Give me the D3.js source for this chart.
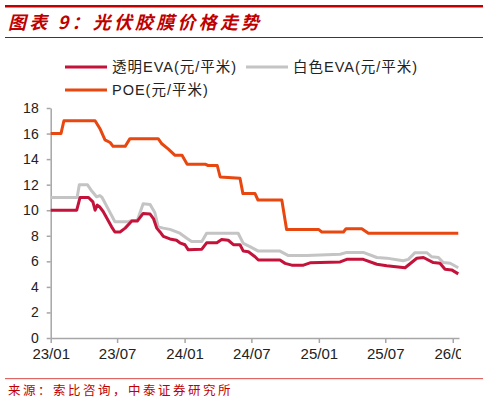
<!DOCTYPE html>
<html>
<head>
<meta charset="utf-8">
<script src="https://cdn.jsdelivr.net/npm/d3@7"></script>
<style>
  body { margin: 0; background: #fff; }
  svg { display: block; }
  .axis text { font-family: "Liberation Sans", Arial, sans-serif; font-size: 14px; fill: #222; }
  .axis.x text { font-size: 15px; }
  .axis path, .axis line { stroke: #a6a6a6; stroke-width: 1.5; }
</style>
</head>
<body>
<div id="chart"></div>
<script>
// values (元/平米)
const transparentEva = [
  ['2023-01-01', 10.0], ['2023-03-13', 10.0], ['2023-03-22', 11.0], ['2023-04-14', 11.0],
  ['2023-04-26', 10.65], ['2023-05-02', 10.0], ['2023-05-08', 10.4], ['2023-05-15', 10.25],
  ['2023-05-24', 9.9], ['2023-06-16', 8.7], ['2023-06-25', 8.3], ['2023-07-09', 8.3],
  ['2023-07-23', 8.6], ['2023-08-10', 9.15], ['2023-08-25', 9.15], ['2023-09-10', 9.75],
  ['2023-09-29', 9.7], ['2023-10-08', 9.35], ['2023-10-17', 8.6], ['2023-10-26', 8.3],
  ['2023-11-04', 7.95], ['2023-11-22', 7.75], ['2023-12-10', 7.65], ['2023-12-19', 7.45],
  ['2024-01-02', 7.3], ['2024-01-11', 6.9], ['2024-02-17', 6.95], ['2024-03-01', 7.45],
  ['2024-03-29', 7.45], ['2024-04-11', 7.7], ['2024-04-29', 7.65], ['2024-05-13', 7.3],
  ['2024-05-31', 7.3], ['2024-06-09', 6.8], ['2024-06-23', 6.75], ['2024-07-11', 6.36],
  ['2024-07-20', 6.1], ['2024-09-17', 6.1], ['2024-10-01', 5.84], ['2024-10-19', 5.7],
  ['2024-11-20', 5.7], ['2024-12-08', 5.88], ['2025-02-28', 5.95], ['2025-03-18', 6.16],
  ['2025-05-02', 6.16], ['2025-06-08', 5.77], ['2025-07-05', 5.66], ['2025-08-24', 5.5],
  ['2025-09-25', 6.24], ['2025-10-13', 6.3], ['2025-11-09', 5.9], ['2025-11-27', 5.85],
  ['2025-12-11', 5.38], ['2025-12-29', 5.33], ['2026-01-16', 5.02]
];

const whiteEva = [
  ['2023-01-01', 11.0], ['2023-03-14', 11.0], ['2023-03-20', 12.0], ['2023-04-11', 12.0],
  ['2023-04-23', 11.5], ['2023-05-06', 11.05], ['2023-05-15', 11.15], ['2023-05-21', 11.0],
  ['2023-06-03', 10.3], ['2023-06-25', 9.1], ['2023-08-01', 9.1], ['2023-08-10', 9.2],
  ['2023-08-25', 9.2], ['2023-09-10', 10.5], ['2023-09-29', 10.45], ['2023-10-12', 9.8],
  ['2023-10-21', 8.7], ['2023-11-04', 8.6], ['2023-11-22', 8.5], ['2023-12-19', 8.2],
  ['2024-01-07', 7.8], ['2024-01-20', 7.55], ['2024-02-17', 7.55], ['2024-03-01', 8.2],
  ['2024-05-26', 8.2], ['2024-06-09', 7.4], ['2024-06-27', 7.15], ['2024-07-20', 6.8],
  ['2024-09-17', 6.8], ['2024-10-10', 6.45], ['2024-11-29', 6.45], ['2025-02-28', 6.55],
  ['2025-03-18', 6.7], ['2025-05-02', 6.7], ['2025-06-08', 6.3], ['2025-07-05', 6.25],
  ['2025-08-19', 6.05], ['2025-09-02', 6.15], ['2025-09-20', 6.68], ['2025-10-22', 6.68],
  ['2025-11-05', 6.35], ['2025-11-23', 6.3], ['2025-12-06', 5.9], ['2025-12-25', 5.85],
  ['2026-01-16', 5.5]
];

const poe = [
  ['2023-01-01', 16.0], ['2023-01-29', 16.0], ['2023-02-06', 17.0], ['2023-05-02', 17.0],
  ['2023-05-15', 16.4], ['2023-05-29', 15.5], ['2023-06-12', 15.3], ['2023-06-20', 15.0],
  ['2023-07-23', 15.0], ['2023-08-05', 15.6], ['2023-10-21', 15.6], ['2023-10-31', 15.2],
  ['2023-11-17', 14.8], ['2023-12-06', 14.3], ['2023-12-25', 14.3], ['2024-01-08', 13.6],
  ['2024-02-26', 13.6], ['2024-03-05', 13.5], ['2024-03-30', 13.5], ['2024-04-07', 12.6],
  ['2024-05-31', 12.5], ['2024-06-08', 11.3], ['2024-07-11', 11.3], ['2024-07-19', 10.8],
  ['2024-09-22', 10.8], ['2024-10-05', 8.5], ['2024-12-31', 8.5], ['2025-01-09', 8.3],
  ['2025-03-09', 8.3], ['2025-03-16', 8.55], ['2025-04-28', 8.55], ['2025-05-16', 8.2],
  ['2026-01-16', 8.2]
];

const seriesNames = ['透明EVA(元/平米)', '白色EVA(元/平米)', 'POE(元/平米)'];
const seriesColors = ['#c4133b', '#c4c4c4', '#e8470f'];
const yTicks = [0, 2, 4, 6, 8, 10, 12, 14, 16, 18];

const width = 488;
const height = 402;
const parse = d3.timeParse('%Y-%m-%d');

const svg = d3.select('#chart').append('svg')
  .attr('width', width)
  .attr('height', height);

// header rules and title
svg.append('rect').attr('x', 5).attr('y', 5).attr('width', 478).attr('height', 2.5).attr('fill', '#c00000');
svg.append('rect').attr('x', 5).attr('y', 37).attr('width', 478).attr('height', 1).attr('fill', '#c00000');
svg.append('text')
  .attr('x', 8)
  .attr('y', 29)
  .style('font-family', '"Noto Sans CJK SC", sans-serif')
  .style('font-size', '18px')
  .style('font-weight', 'bold')
  .style('font-style', 'italic')
  .style('letter-spacing', '3.2px')
  .style('fill', '#c00000')
  .text('图表 9：光伏胶膜价格走势');

// scales
const x = d3.scaleTime()
  .domain([parse('2023-01-01'), parse('2026-01-18')])
  .range([50.7, 459]);
const y = d3.scaleLinear()
  .domain([0, 18])
  .range([338, 108]);

// axes (the last label is cut at the frame edge, as in the source)
svg.append('defs').append('clipPath').attr('id', 'xclip')
  .append('rect').attr('x', 0).attr('y', -10).attr('width', 461).attr('height', 50);

svg.append('g')
  .attr('class', 'axis x')
  .attr('transform', 'translate(0,338)')
  .attr('clip-path', 'url(#xclip)')
  .call(d3.axisBottom(x)
    .ticks(d3.timeMonth.every(6))
    .tickFormat(d3.timeFormat('%y/%m'))
    .tickSize(5)
    .tickSizeOuter(0)
    .tickPadding(5));

svg.append('g')
  .attr('class', 'axis')
  .attr('transform', 'translate(50.7,0)')
  .call(d3.axisLeft(y)
    .tickValues(yTicks)
    .tickSize(4)
    .tickSizeOuter(0)
    .tickPadding(8));

// lines
const line = d3.line()
  .x(d => x(parse(d[0])))
  .y(d => y(d[1]))
  .curve(d3.curveLinear);

[poe, whiteEva, transparentEva].forEach((s, i) => {
  const colorIdx = [2, 1, 0][i];
  svg.append('path')
    .datum(s)
    .attr('fill', 'none')
    .attr('stroke', seriesColors[colorIdx])
    .attr('stroke-width', 3)
    .attr('stroke-linejoin', 'round')
    .attr('d', line);
});

// legend
const legendPos = [[65, 67], [246, 67], [65, 90]];
const legend = svg.selectAll('.legend')
  .data(seriesNames)
  .enter()
  .append('g')
  .attr('class', 'legend')
  .attr('transform', (d, i) => `translate(${legendPos[i][0]}, ${legendPos[i][1]})`);

legend.append('line')
  .attr('x1', 0).attr('x2', 42)
  .attr('y1', 0).attr('y2', 0)
  .attr('stroke', (d, i) => seriesColors[i])
  .attr('stroke-width', 3);

legend.append('text')
  .attr('x', 47)
  .attr('y', 5)
  .style('font-family', '"Liberation Sans", "Noto Sans CJK SC", sans-serif')
  .style('font-size', '14.5px')
  .style('letter-spacing', '1px')
  .style('fill', '#222')
  .text(d => d);

// source
svg.append('rect').attr('x', 5).attr('y', 378).attr('width', 478).attr('height', 1.2).attr('fill', '#e06666');
svg.append('text')
  .attr('x', 8)
  .attr('y', 395)
  .style('font-family', '"Noto Sans CJK SC", sans-serif')
  .style('font-size', '12.5px')
  .style('letter-spacing', '2.5px')
  .style('fill', '#c00000')
  .text('来源：索比咨询，中泰证券研究所');
</script>
</body>
</html>
